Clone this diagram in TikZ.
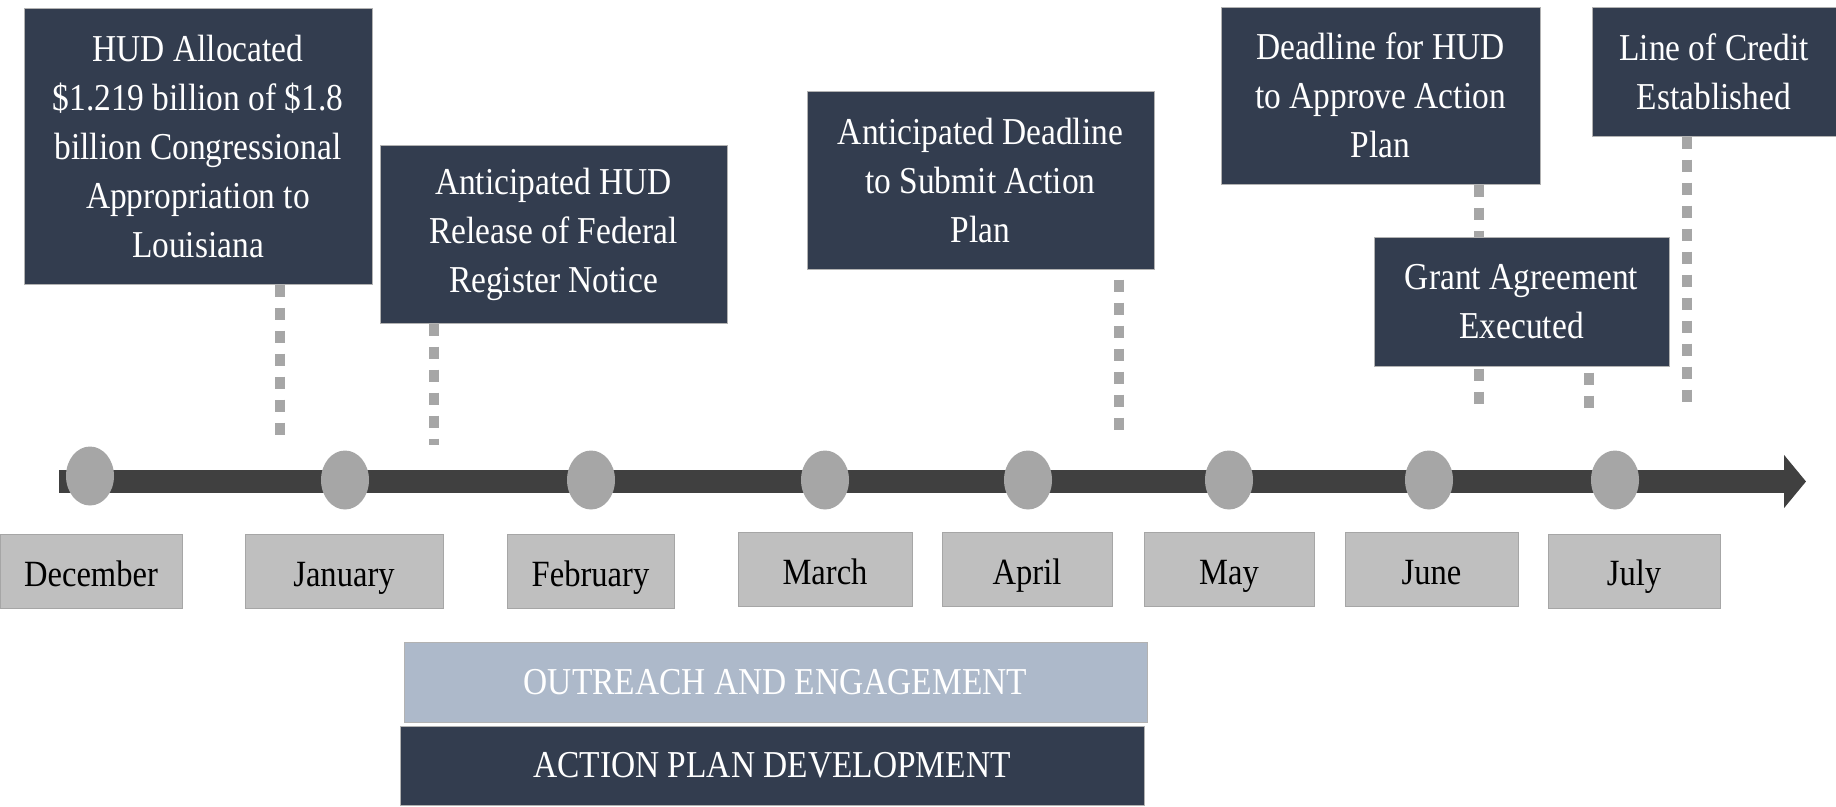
\documentclass[tikz,border=0pt]{standalone}
\usepackage{fontspec}
\setmainfont{Liberation Serif}[FakeStretch=0.88]
\usetikzlibrary{arrows.meta,shapes.geometric}
\definecolor{navy}{HTML}{333D4F}
\definecolor{paleblue}{HTML}{ADB9CA}
\definecolor{monthgray}{HTML}{BFBFBF}
\definecolor{dotgray}{HTML}{A6A6A6}
\definecolor{bardark}{HTML}{404040}
\pgfdeclarelayer{background}
\pgfsetlayers{background,main}
\begin{document}
\begin{tikzpicture}[x=1pt,y=-1pt,
  evbox/.style={fill=navy, draw=gray!60, line width=1pt, text=white, align=center, inner sep=0pt,
    font=\fontsize{38}{49}\selectfont},
  monthbox/.style={fill=monthgray, draw=dotgray, line width=1pt, text=black, inner sep=0pt,
    minimum height=74pt, text height=37pt, text depth=8pt, font=\fontsize{37}{44}\selectfont},
  monthdot/.style={shape=ellipse, fill=dotgray, draw=none, inner sep=0pt, minimum width=48pt, minimum height=59pt},
  conn/.style={draw=dotgray, line width=10pt, dash pattern=on 12pt off 11pt},
  phasebar/.style={draw=gray!60, line width=1pt, inner sep=0pt, font=\fontsize{38}{46}\selectfont}
]
\useasboundingbox (0,0) rectangle (1836,806);

% event boxes
\node[evbox, minimum width=348pt, minimum height=276pt] (b1) at (198,146)
  {HUD Allocated\\\$1.219 billion of \$1.8\\billion Congressional\\Appropriation to\\Louisiana};
\node[evbox, minimum width=347pt, minimum height=178pt] (b2) at (553.5,234)
  {Anticipated HUD\\Release of Federal\\Register Notice};
\node[evbox, minimum width=347pt, minimum height=178pt] (b3) at (980.5,180)
  {Anticipated Deadline\\to Submit Action\\Plan};
\node[evbox, minimum width=319pt, minimum height=177pt] (b4) at (1380.5,95.5)
  {Deadline for HUD\\to Approve Action\\Plan};
\node[evbox, minimum width=244pt, minimum height=129pt] (b5) at (1714,71.5)
  {Line of Credit\\Established};
\node[evbox, minimum width=295pt, minimum height=129pt] (b6) at (1521.5,301.5)
  {Grant Agreement\\Executed};

% connector ends
\coordinate (c1) at (280,440);
\coordinate (c2) at (434,445);
\coordinate (c3) at (1119,431);
\coordinate (c4) at (1479,413);
\coordinate (c5) at (1687,408);
\coordinate (c6) at (1589,408);

\begin{pgfonlayer}{background}
\draw[conn] (b1.south -| c1) -- (c1);
\draw[conn] (b2.south -| c2) -- (c2);
\draw[conn, dash phase=13pt] (b3.south -| c3) -- (c3);
\draw[conn] (b4.south -| c4) -- (c4);
\draw[conn] (b5.south -| c5) -- (c5);
\draw[conn, dash phase=17pt] (b6.south -| c6) -- (c6);
\end{pgfonlayer}

% timeline bar
\coordinate (barS) at (59,481.5);
\coordinate (barE) at (1806,481.5);
\draw[bardark, line width=23pt, -{Triangle[length=22pt,width=52pt]}] (barS) -- (barE);

% month dots
\node[monthdot] (d1) at (90,476) {};
\node[monthdot] (d2) at (345,480) {};
\node[monthdot] (d3) at (591,480) {};
\node[monthdot] (d4) at (825,480) {};
\node[monthdot] (d5) at (1028,480) {};
\node[monthdot] (d6) at (1229,480) {};
\node[monthdot] (d7) at (1429,480) {};
\node[monthdot] (d8) at (1615,480) {};

% month boxes
\node[monthbox, minimum width=182pt] (m1) at (91,571.5) {December};
\node[monthbox, minimum width=198pt] (m2) at (344,571.5) {January};
\node[monthbox, minimum width=167pt] (m3) at (590.5,571.5) {February};
\node[monthbox, minimum width=174pt] (m4) at (825,569.5) {March};
\node[monthbox, minimum width=170pt] (m5) at (1027,569.5) {April};
\node[monthbox, minimum width=170pt] (m6) at (1229,569.5) {May};
\node[monthbox, minimum width=173pt] (m7) at (1431.5,569.5) {June};
\node[monthbox, minimum width=172pt] (m8) at (1634,571) {July};

% phase bars
\node[phasebar, fill=paleblue, text=white, minimum width=743pt, minimum height=80pt] (p1) at (775.5,682)
  {OUTREACH AND ENGAGEMENT};
\node[phasebar, fill=navy, text=white, minimum width=744pt, minimum height=79pt] (p2) at (772,765.5)
  {ACTION PLAN DEVELOPMENT};
\end{tikzpicture}
\end{document}
